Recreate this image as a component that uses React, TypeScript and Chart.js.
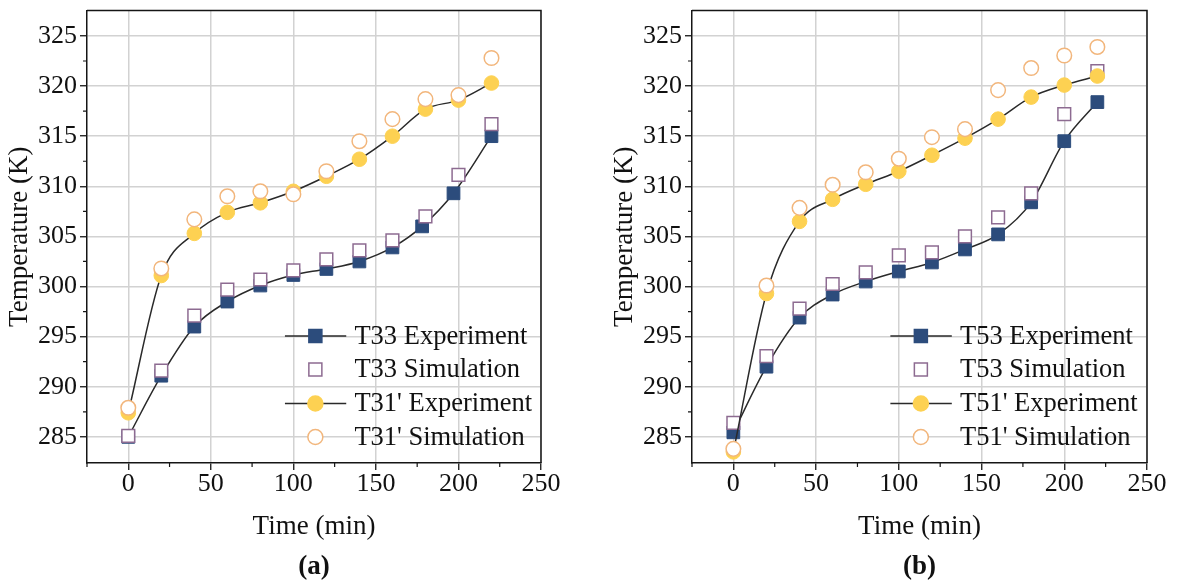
import { useEffect, useRef } from "react";
import { Chart, registerables } from "chart.js";

Chart.register(...registerables);

const SERIF = '"Liberation Serif", "Times New Roman", serif';

// Sampling times (min)
const timeStd = [0, 20, 40, 60, 80, 100, 120, 140, 160, 180, 200, 220];
const timeT33Exp = [0, 20, 40, 60, 80, 100, 120, 140, 160, 178, 197, 220];

// Panel (a): measured and simulated temperatures (K)
const t33Experiment = [285.0, 291.1, 296.0, 298.5, 300.1, 301.15, 301.75, 302.5, 303.9, 306.0, 309.3, 315.0];
const t33Simulation = [285.1, 291.6, 297.1, 299.7, 300.7, 301.6, 302.7, 303.6, 304.6, 307.0, 311.15, 316.2];
const t31Experiment = [287.4, 301.1, 305.3, 307.4, 308.35, 309.5, 311.0, 312.7, 315.0, 317.7, 318.6, 320.3];
const t31Simulation = [287.9, 301.8, 306.7, 309.0, 309.5, 309.2, 311.5, 314.5, 316.7, 318.7, 319.1, 322.8];

// Panel (b): measured and simulated temperatures (K)
const t53Experiment = [285.45, 292.0, 296.9, 299.2, 300.5, 301.5, 302.4, 303.7, 305.2, 308.4, 314.5, 318.4];
const t53Simulation = [286.4, 293.05, 297.8, 300.25, 301.4, 303.1, 303.4, 305.0, 306.9, 309.3, 317.2, 321.5];
const t51Experiment = [283.5, 299.3, 306.5, 308.7, 310.2, 311.5, 313.1, 314.8, 316.7, 318.9, 320.1, 321.0];
const t51Simulation = [283.8, 300.1, 307.85, 310.15, 311.4, 312.75, 314.9, 315.7, 319.6, 321.8, 323.05, 323.9];

// Axis ticks
const xMajorTicks = [0, 50, 100, 150, 200, 250];
const xMinorTicks = [-25, 25, 75, 125, 175, 225];
const yMajorTicks = [285, 290, 295, 300, 305, 310, 315, 320, 325];
const yMinorTicks = [287.5, 292.5, 297.5, 302.5, 307.5, 312.5, 317.5, 322.5];

const X_MIN = -25;
const X_MAX = 250;
const Y_MIN = 282.39;
const Y_MAX = 327.54;

const X_TITLE = "Time (min)";
const Y_TITLE = "Temperature (K)";

const NAVY = "#2c4c7c";
const SQUARE_EDGE = "#8d6b91";
const YELLOW = "#fdd152";
const CIRCLE_EDGE = "#f2b67c";
const LINE = "#2a2a2a";
const GRID = "#d2d2d2";
const AXIS = "#151515";
const TEXT = "#111111";

type Panel = {
  tag: string;
  names: string[];
  squareExp: { x: number[]; y: number[] };
  squareSim: { x: number[]; y: number[] };
  circleExp: { x: number[]; y: number[] };
  circleSim: { x: number[]; y: number[] };
  canvasLeft: number;
  canvasWidth: number;
  axisWidth: number;
  padRight: number;
};

const panels: Panel[] = [
  {
    tag: "(a)",
    names: ["T33 Experiment", "T33 Simulation", "T31' Experiment", "T31' Simulation"],
    squareExp: { x: timeT33Exp, y: t33Experiment },
    squareSim: { x: timeStd, y: t33Simulation },
    circleExp: { x: timeStd, y: t31Experiment },
    circleSim: { x: timeStd, y: t31Simulation },
    canvasLeft: 0,
    canvasWidth: 590,
    axisWidth: 87,
    padRight: 49,
  },
  {
    tag: "(b)",
    names: ["T53 Experiment", "T53 Simulation", "T51' Experiment", "T51' Simulation"],
    squareExp: { x: timeStd, y: t53Experiment },
    squareSim: { x: timeStd, y: t53Simulation },
    circleExp: { x: timeStd, y: t51Experiment },
    circleSim: { x: timeStd, y: t51Simulation },
    canvasLeft: 590,
    canvasWidth: 587,
    axisWidth: 102,
    padRight: 30,
  },
];

const HEIGHT = 584;
const PLOT_BOTTOM = 463;
const PLOT_TOP = 8;

const toPoints = (s: { x: number[]; y: number[] }) => s.x.map((x, i) => ({ x, y: s.y[i] }));

const isMajorX = (v: number) => xMajorTicks.includes(v);
const isMajorY = (v: number) => yMajorTicks.includes(v);

function drawSquare(ctx: CanvasRenderingContext2D, x: number, y: number, side: number, fill: string, stroke: string) {
  ctx.fillStyle = fill;
  ctx.fillRect(x - side / 2, y - side / 2, side, side);
  ctx.strokeStyle = stroke;
  ctx.lineWidth = 1.5;
  ctx.strokeRect(x - side / 2, y - side / 2, side, side);
}

function drawCircle(ctx: CanvasRenderingContext2D, x: number, y: number, r: number, fill: string, stroke: string) {
  ctx.beginPath();
  ctx.arc(x, y, r, 0, Math.PI * 2);
  ctx.fillStyle = fill;
  ctx.fill();
  ctx.strokeStyle = stroke;
  ctx.lineWidth = 1.5;
  ctx.stroke();
}

function decorations(panel: Panel) {
  return {
    id: "decorations",
    afterDraw(chart: Chart) {
      const ctx = chart.ctx;
      const { left, right, top, bottom } = chart.chartArea;
      const xs = chart.scales.x;
      const ys = chart.scales.y;
      ctx.save();

      // frame on top and right
      ctx.strokeStyle = AXIS;
      ctx.lineWidth = 1.5;
      ctx.beginPath();
      ctx.moveTo(left, top);
      ctx.lineTo(right, top);
      ctx.lineTo(right, bottom);
      ctx.stroke();

      // short minor ticks
      ctx.lineWidth = 1.2;
      ctx.beginPath();
      xMinorTicks.forEach((v) => {
        const px = xs.getPixelForValue(v);
        ctx.moveTo(px, bottom);
        ctx.lineTo(px, bottom + 4);
      });
      yMinorTicks.forEach((v) => {
        const py = ys.getPixelForValue(v);
        ctx.moveTo(left, py);
        ctx.lineTo(left - 4, py);
      });
      ctx.stroke();

      // axis titles and panel tag
      const cx = (left + right) / 2;
      ctx.fillStyle = TEXT;
      ctx.textAlign = "center";
      ctx.textBaseline = "middle";
      ctx.font = `27px ${SERIF}`;
      ctx.fillText(X_TITLE, cx, 527);
      ctx.save();
      ctx.translate(left - 67, (top + bottom) / 2);
      ctx.rotate(-Math.PI / 2);
      ctx.fillText(Y_TITLE, 0, 0);
      ctx.restore();
      ctx.font = `bold 27px ${SERIF}`;
      ctx.fillText(panel.tag, cx, 567);

      // legend inside the plot area
      const w = right - left;
      const lineStart = left + w * 0.436;
      const lineEnd = left + w * 0.571;
      const markX = left + w * 0.503;
      const textX = left + w * 0.589;
      const rows = [bottom - 127, bottom - 93.5, bottom - 59.5, bottom - 26];
      ctx.font = `26.5px ${SERIF}`;
      ctx.textAlign = "left";
      rows.forEach((ry, i) => {
        if (i === 0 || i === 2) {
          ctx.strokeStyle = LINE;
          ctx.lineWidth = 1.5;
          ctx.beginPath();
          ctx.moveTo(lineStart, ry);
          ctx.lineTo(lineEnd, ry);
          ctx.stroke();
        }
        if (i === 0) drawSquare(ctx, markX, ry, 13, NAVY, NAVY);
        if (i === 1) drawSquare(ctx, markX, ry, 13, "#ffffff", SQUARE_EDGE);
        if (i === 2) drawCircle(ctx, markX, ry, 7.5, YELLOW, YELLOW);
        if (i === 3) drawCircle(ctx, markX, ry, 7.5, "#ffffff", CIRCLE_EDGE);
        ctx.fillStyle = TEXT;
        ctx.fillText(panel.names[i], textX, ry + 1);
      });

      ctx.restore();
    },
  };
}

function TemperaturePanel({ panel }: { panel: Panel }) {
  const ref = useRef<HTMLCanvasElement | null>(null);

  useEffect(() => {
    if (!ref.current) return;
    const chart = new Chart(ref.current, {
      type: "scatter",
      data: {
        datasets: [
          {
            label: panel.names[3],
            data: toPoints(panel.circleSim),
            showLine: false,
            pointStyle: "circle",
            pointRadius: 7.3,
            pointBackgroundColor: "#ffffff",
            pointBorderColor: CIRCLE_EDGE,
            pointBorderWidth: 1.5,
            order: 0,
          },
          {
            label: panel.names[2],
            data: toPoints(panel.circleExp),
            showLine: true,
            borderColor: LINE,
            borderWidth: 1.5,
            cubicInterpolationMode: "monotone",
            pointStyle: "circle",
            pointRadius: 7.3,
            pointBackgroundColor: YELLOW,
            pointBorderColor: YELLOW,
            pointBorderWidth: 1,
            order: 1,
          },
          {
            label: panel.names[1],
            data: toPoints(panel.squareSim),
            showLine: false,
            pointStyle: "rect",
            pointRadius: 9,
            pointBackgroundColor: "#ffffff",
            pointBorderColor: SQUARE_EDGE,
            pointBorderWidth: 1.5,
            order: 2,
          },
          {
            label: panel.names[0],
            data: toPoints(panel.squareExp),
            showLine: true,
            borderColor: LINE,
            borderWidth: 1.5,
            cubicInterpolationMode: "monotone",
            pointStyle: "rect",
            pointRadius: 9,
            pointBackgroundColor: NAVY,
            pointBorderColor: NAVY,
            pointBorderWidth: 1,
            order: 3,
          },
        ],
      },
      options: {
        animation: false,
        responsive: false,
        devicePixelRatio: 1,
        events: [],
        layout: { padding: { left: 0, top: PLOT_TOP, right: panel.padRight, bottom: 0 } },
        plugins: {
          legend: { display: false },
          tooltip: { enabled: false },
          title: { display: false },
        },
        scales: {
          x: {
            type: "linear",
            min: X_MIN,
            max: X_MAX,
            afterBuildTicks: (scale: any) => {
              scale.ticks = [...xMinorTicks, ...xMajorTicks].sort((a, b) => a - b).map((value) => ({ value }));
            },
            afterFit: (scale: any) => {
              scale.height = HEIGHT - PLOT_BOTTOM;
              scale.paddingLeft = 0;
              scale.paddingRight = 0;
            },
            ticks: {
              autoSkip: false,
              maxRotation: 0,
              padding: -1,
              color: TEXT,
              font: { family: SERIF, size: 26 },
              callback: (v: any) => (isMajorX(Number(v)) ? String(v) : ""),
            },
            grid: {
              drawTicks: true,
              tickLength: 7,
              lineWidth: 1.5,
              tickWidth: 1.3,
              color: (c: any) => (c.tick && isMajorX(c.tick.value) ? GRID : "rgba(0,0,0,0)"),
              tickColor: (c: any) => (c.tick && isMajorX(c.tick.value) ? AXIS : "rgba(0,0,0,0)"),
            },
            border: { display: true, color: AXIS, width: 1.5 },
          },
          y: {
            type: "linear",
            min: Y_MIN,
            max: Y_MAX,
            afterBuildTicks: (scale: any) => {
              scale.ticks = [...yMinorTicks, ...yMajorTicks].sort((a, b) => a - b).map((value) => ({ value }));
            },
            afterFit: (scale: any) => {
              scale.width = panel.axisWidth;
              scale.paddingTop = 0;
              scale.paddingBottom = 0;
            },
            ticks: {
              autoSkip: false,
              padding: 3,
              color: TEXT,
              font: { family: SERIF, size: 26 },
              callback: (v: any) => (isMajorY(Number(v)) ? String(v) : ""),
            },
            grid: {
              drawTicks: true,
              tickLength: 7,
              lineWidth: 1.5,
              tickWidth: 1.3,
              color: (c: any) => (c.tick && isMajorY(c.tick.value) ? GRID : "rgba(0,0,0,0)"),
              tickColor: (c: any) => (c.tick && isMajorY(c.tick.value) ? AXIS : "rgba(0,0,0,0)"),
            },
            border: { display: true, color: AXIS, width: 1.5 },
          },
        },
      },
      plugins: [decorations(panel)],
    } as any);
    return () => chart.destroy();
  }, [panel]);

  return (
    <canvas
      ref={ref}
      width={panel.canvasWidth}
      height={HEIGHT}
      style={{ position: "absolute", left: panel.canvasLeft, top: 0, width: panel.canvasWidth, height: HEIGHT }}
    />
  );
}

export default function App() {
  return (
    <div style={{ position: "absolute", left: 0, top: 0, width: 1177, height: HEIGHT, background: "#ffffff" }}>
      {panels.map((p) => (
        <TemperaturePanel key={p.tag} panel={p} />
      ))}
    </div>
  );
}
